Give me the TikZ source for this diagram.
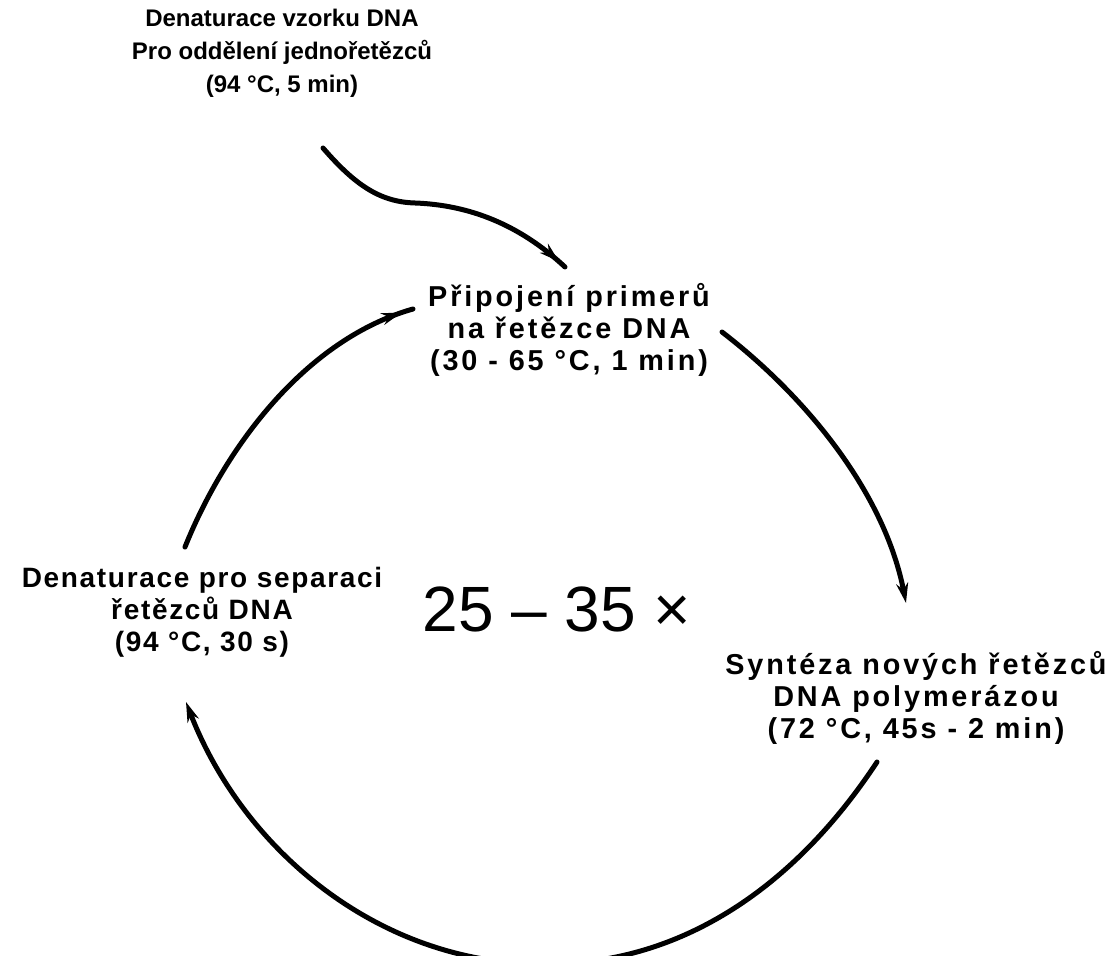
\documentclass[tikz,border=0pt]{standalone}
\usepackage{fontspec}
\setmainfont{Liberation Sans}
\newfontfamily\krokfont[LetterSpace=10]{Liberation Sans}
\newfontfamily\bokfont[LetterSpace=6]{Liberation Sans}
\newfontfamily\uvodfont[LetterSpace=0]{Liberation Sans}
\usetikzlibrary{arrows.meta,decorations.markings}

\begin{document}
\begin{tikzpicture}[x=0.5pt,y=-0.5pt,
  krok/.style={align=center,font=\krokfont\bfseries\fontsize{14.4}{16}\selectfont},
  bok/.style={align=center,font=\bokfont\bfseries\fontsize{14}{16}\selectfont},
  uvod/.style={align=center,font=\uvodfont\bfseries\fontsize{12}{16.5}\selectfont},
  cara/.style={line width=2.5pt,line cap=round},
  sipka/.style={cara,-{Stealth[length=10pt,width=6pt]}},
  znacka/.style={cara,postaction={decorate},
    decoration={markings,mark=at position #1 with {\arrow{Stealth[length=10pt,width=6pt]}}}}]
\useasboundingbox (0,0) rectangle (1120,956);
\clip (0,0) rectangle (1120,956);

% popisky
\node[uvod] (start) at (282,53) {Denaturace vzorku DNA\\Pro oddělení jednořetězců\\(94 °C, 5 min)};
\node[krok] (primery) at (569,330) {Připojení primerů\\na řetězce DNA\\(30 - 65 °C, 1 min)};
\node[krok] (synteza) at (916,698) {Syntéza nových řetězců\\DNA polymerázou\\(72 °C, 45s - 2 min)};
\node[bok] (separace) at (202,612) {Denaturace pro separaci\\řetězců DNA\\(94 °C, 30 s)};
\node[font=\fontsize{32}{38}\selectfont,anchor=base] (cykly) at (557,632) {25 – 35 ×};

% konce car
\coordinate (s0) at (323,148); \coordinate (s1) at (415,203); \coordinate (s2) at (565,267);
\coordinate (a0) at (185,547); \coordinate (a1) at (413,309);
\coordinate (b0) at (722,332); \coordinate (b1) at (906,603);
\coordinate (c0) at (877,762); \coordinate (c1) at (542,964); \coordinate (c2) at (186,702);

\draw[znacka=-4pt] (s0) .. controls (355,185) and (380,202) .. (s1)
  .. controls (470,205) and (520,225) .. (s2); %vstup do cyklu
\draw[znacka=-6pt] (a0) .. controls (226,445) and (307,339) .. (a1); %denaturace -> primery
\draw[sipka] (b0) .. controls (809,399) and (885,495) .. (b1); %primery -> synteza
\draw[sipka] (c0) .. controls (802,876) and (690,966) .. (c1)
  .. controls (381,964) and (244,852) .. (c2); %synteza -> denaturace
\end{tikzpicture}
\end{document}
